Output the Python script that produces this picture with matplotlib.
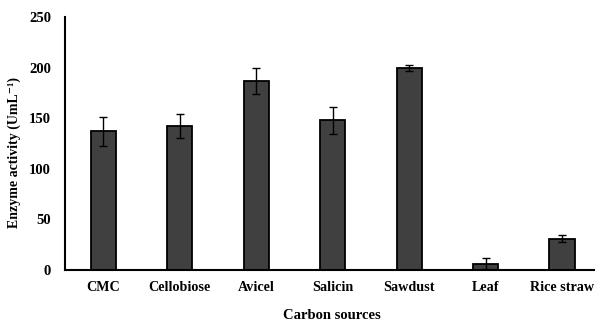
import matplotlib
matplotlib.use("Agg")
import matplotlib.pyplot as plt
import numpy as np

categories = ["CMC", "Cellobiose", "Avicel", "Salicin", "Sawdust", "Leaf", "Rice straw"]
activity = [137, 142, 187, 148, 200, 6, 31]
errors = [14, 12, 13, 13.5, 3, 5.5, 3.5]
yticks = [0, 50, 100, 150, 200, 250]

plt.rcParams['font.family'] = ['Liberation Serif', 'DejaVu Serif']
plt.rcParams['font.weight'] = 'bold'

fig = plt.figure(figsize=(5.95, 3.27), dpi=100)
W, H = 595, 327
left, right, top, bottom = 65, 598, 17, 270
ax = fig.add_axes([left / W, (H - bottom) / H, (right - left) / W, (bottom - top) / H])

x = np.arange(len(categories))
ax.bar(x, activity, width=0.33, color='#404040', edgecolor='black', linewidth=1.3, zorder=2)
ax.errorbar(x, activity, yerr=errors, fmt='none', ecolor='black', elinewidth=1.0,
            capsize=2.6, capthick=1.0, zorder=3)

ax.set_xlim(-0.5, 6.47)
ax.set_ylim(0, 250)
ax.set_yticks(yticks)
ax.set_xticks(x)
ax.set_xticklabels(categories)

for s in ['top', 'right']:
    ax.spines[s].set_visible(False)
for s in ['left', 'bottom']:
    ax.spines[s].set_linewidth(1.5)
    ax.spines[s].set_color('black')

ax.tick_params(axis='y', length=0, pad=10, labelsize=10.5)
ax.tick_params(axis='x', length=0, pad=8, labelsize=10.2)
for lab in ax.get_xticklabels() + ax.get_yticklabels():
    lab.set_fontweight('bold')

ax.set_ylabel("Enzyme activity (UmL\u207b\u00b9)", fontsize=10, fontweight='bold')
ax.set_xlabel("Carbon sources", fontsize=10.5, fontweight='bold', labelpad=11)
ax.yaxis.set_label_coords(-44 / (right - left), 0.466)

fig.savefig("out.png", dpi=100)
